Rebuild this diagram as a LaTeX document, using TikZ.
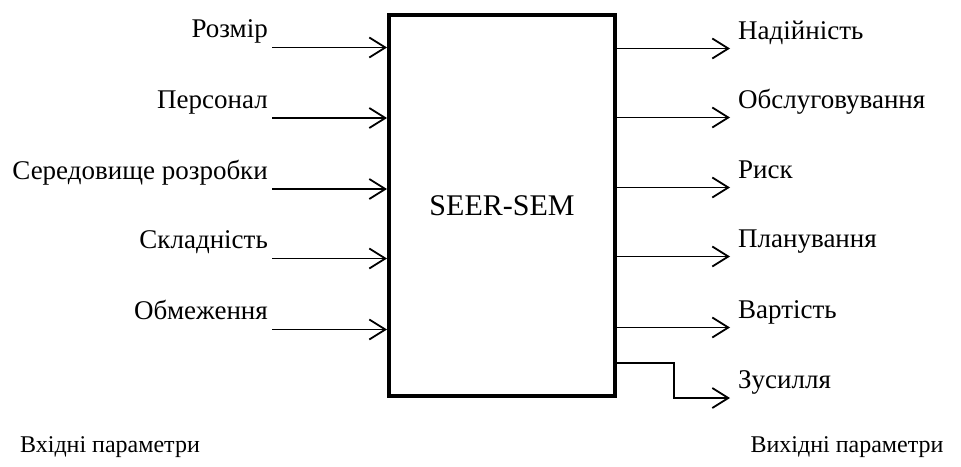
\documentclass[tikz,border=0pt]{standalone}
\usepackage{fontspec}
\setmainfont{Liberation Serif}
\usetikzlibrary{arrows.meta}
\begin{document}
\begin{tikzpicture}[x=1pt,y=-1pt,
  lbl/.style={inner sep=0pt,font=\fontsize{27}{30}\selectfont},
  inlbl/.style={lbl,anchor=base east},
  outlbl/.style={lbl,anchor=base west},
  caplbl/.style={inner sep=0pt,anchor=base,font=\fontsize{24}{28}\selectfont},
  arr/.style={line width=1.8pt,-{Straight Barb[length=16pt,width=20pt,line width=1.8pt]}},
  blockbox/.style={draw,line width=4pt,minimum width=226pt,minimum height=381pt,inner sep=0pt,font=\fontsize{30}{34}\selectfont}]
\useasboundingbox (0,0) rectangle (961,466);
\node[blockbox] (box) at (502,205.5) {SEER-SEM};
% inputs
\foreach \i/\y/\t in {1/47.5/Розмір,2/118/Персонал,3/189/Середовище розробки,4/258.5/Складність,5/329.5/Обмеження}{
  \node[inlbl] (in\i) at (268,\y-10) {\t};
  \coordinate (s\i) at (272,\y);
  \draw[arr] (s\i) -- (s\i -| box.west);
}
% outputs
\foreach \i/\y/\t in {1/48.5/Надійність,2/117.5/Обслуговування,3/187.5/Риск,4/256.5/Планування,5/327.5/Вартість}{
  \node[outlbl] (out\i) at (738,\y-9) {\t};
  \coordinate (e\i) at (730,\y);
  \draw[arr] (e\i -| box.east) -- (e\i);
}
\node[outlbl] (out6) at (738,388) {Зусилля};
\coordinate (e6) at (730,398);
\coordinate (zk) at (674,363);
\draw[arr] (zk -| box.east) -- (zk) |- (e6);
% captions
\node[caplbl] (capin) at (110,452) {Вхідні параметри};
\node[caplbl] (capout) at (847,452) {Вихідні параметри};
\end{tikzpicture}
\end{document}
